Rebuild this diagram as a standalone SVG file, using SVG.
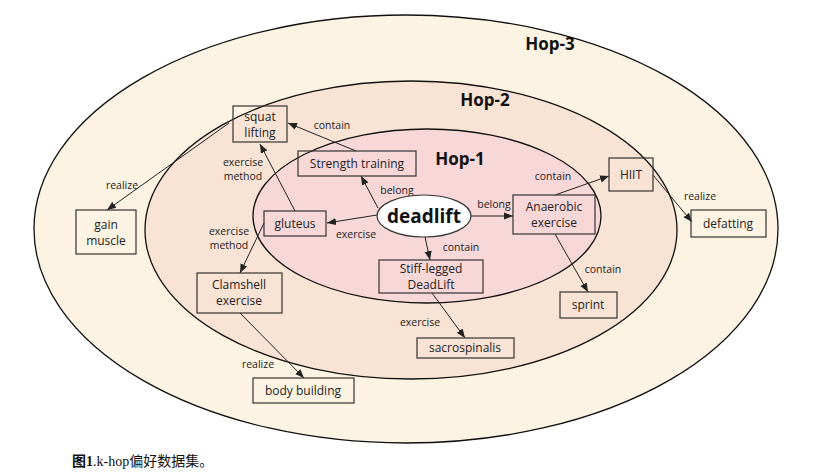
<svg xmlns="http://www.w3.org/2000/svg" width="831" height="475" viewBox="0 0 831 475">
<defs>
<marker id="ah" viewBox="0 0 10 10" refX="10" refY="5" markerWidth="9" markerHeight="9" orient="auto" markerUnits="userSpaceOnUse"><path d="M0,1 L10,5 L0,9 z" fill="#222"/></marker>
<style>
.n{fill:none;stroke:#333;stroke-width:1.2}
.t{font-family:"Open Sans","DejaVu Sans",sans-serif;font-size:12px;fill:#222;text-anchor:middle}
.l{font-family:"Open Sans","DejaVu Sans",sans-serif;font-size:10.5px;fill:#222;text-anchor:middle}
.h{font-family:"Open Sans","DejaVu Sans",sans-serif;font-size:17px;font-weight:bold;fill:#111;text-anchor:middle}
.e{stroke:#222;stroke-width:1;fill:none;marker-end:url(#ah)}
</style>
</defs>
<rect width="831" height="475" fill="#fff"/>
<g id="hop3"><ellipse cx="406" cy="229" rx="372" ry="214" fill="#fcf3e3" stroke="#111" stroke-width="1.3"/><text class="h" x="550" y="50">Hop-3</text></g>
<g id="hop2"><ellipse cx="411" cy="230" rx="266" ry="149" fill="#f9e3d4" stroke="#111" stroke-width="1.3"/><text class="h" x="485" y="106">Hop-2</text></g>
<g id="hop1"><ellipse cx="427" cy="216" rx="174" ry="87" fill="#f8d7d8" stroke="#111" stroke-width="1.3"/><text class="h" x="460" y="165">Hop-1</text></g>
<g id="connectors">
<line class="e" x1="356" y1="151" x2="288" y2="123"/>
<line class="e" x1="229" y1="123" x2="107" y2="210"/>
<line class="e" x1="295" y1="211" x2="260" y2="144"/>
<line class="e" x1="264" y1="223" x2="240" y2="273"/>
<line class="e" x1="377" y1="215" x2="327" y2="223"/>
<line class="e" x1="378" y1="208" x2="361" y2="176"/>
<line class="e" x1="425" y1="237" x2="430" y2="260"/>
<line class="e" x1="471" y1="216" x2="513" y2="216"/>
<line class="e" x1="555" y1="195" x2="609" y2="176"/>
<line class="e" x1="555" y1="234" x2="588" y2="292"/>
<line class="e" x1="653" y1="175" x2="692" y2="222"/>
<line class="e" x1="432" y1="293" x2="465" y2="338"/>
<line class="e" x1="240" y1="313" x2="304" y2="378"/>
<text class="l" x="332" y="129">contain</text>
<text class="l" x="122" y="189">realize</text>
<text class="l" x="243" y="166">exercise</text><text class="l" x="243" y="180">method</text>
<text class="l" x="229" y="235">exercise</text><text class="l" x="229" y="249">method</text>
<text class="l" x="356" y="238">exercise</text>
<text class="l" x="397" y="194">belong</text>
<text class="l" x="494" y="208">belong</text>
<text class="l" x="461" y="251">contain</text>
<text class="l" x="553" y="180">contain</text>
<text class="l" x="603" y="273">contain</text>
<text class="l" x="700" y="200">realize</text>
<text class="l" x="420" y="326">exercise</text>
<text class="l" x="258" y="368">realize</text>
</g>
<g id="squat"><rect class="n" x="233" y="106" width="54" height="36"/><text class="t" x="260" y="121">squat</text><text class="t" x="260" y="137">lifting</text></g>
<g id="gain"><rect class="n" x="76" y="210" width="60" height="44"/><text class="t" x="106" y="229">gain</text><text class="t" x="106" y="245">muscle</text></g>
<g id="strength"><rect class="n" x="298" y="151" width="118" height="25"/><text class="t" x="357" y="168">Strength training</text></g>
<g id="gluteus"><rect class="n" x="264" y="211" width="62" height="25"/><text class="t" x="295" y="228">gluteus</text></g>
<g id="clamshell"><rect class="n" x="197" y="273" width="85" height="40"/><text class="t" x="239" y="289">Clamshell</text><text class="t" x="239" y="305">exercise</text></g>
<g id="body"><rect class="n" x="253" y="378" width="101" height="25"/><text class="t" x="303" y="395">body building</text></g>
<g id="deadlift"><ellipse cx="424" cy="216" rx="47" ry="21" fill="#fff" stroke="#333" stroke-width="1.2"/><text x="424" y="223" text-anchor="middle" font-family="'Open Sans','DejaVu Sans',sans-serif" font-size="19" font-weight="bold" fill="#111">deadlift</text></g>
<g id="anaerobic"><rect class="n" x="513" y="195" width="82" height="39"/><text class="t" x="554" y="211">Anaerobic</text><text class="t" x="554" y="227">exercise</text></g>
<g id="hiit"><rect class="n" x="609" y="158" width="44" height="33"/><text class="t" x="631" y="179">HIIT</text></g>
<g id="defatting"><rect class="n" x="691" y="210" width="75" height="27"/><text class="t" x="728" y="228">defatting</text></g>
<g id="stiff"><rect class="n" x="379" y="260" width="104" height="33"/><text class="t" x="431" y="273">Stiff-legged</text><text class="t" x="431" y="289">DeadLift</text></g>
<g id="sprint"><rect class="n" x="560" y="292" width="57" height="26"/><text class="t" x="588" y="309">sprint</text></g>
<g id="sacro"><rect class="n" x="417" y="338" width="97" height="20"/><text class="t" x="465" y="352">sacrospinalis</text></g>
<text x="72" y="466" font-family="'Liberation Serif','Noto Sans CJK SC',serif" font-size="14" fill="#111"><tspan font-weight="bold">图1</tspan>.k-hop偏好数据集。</text>
</svg>
